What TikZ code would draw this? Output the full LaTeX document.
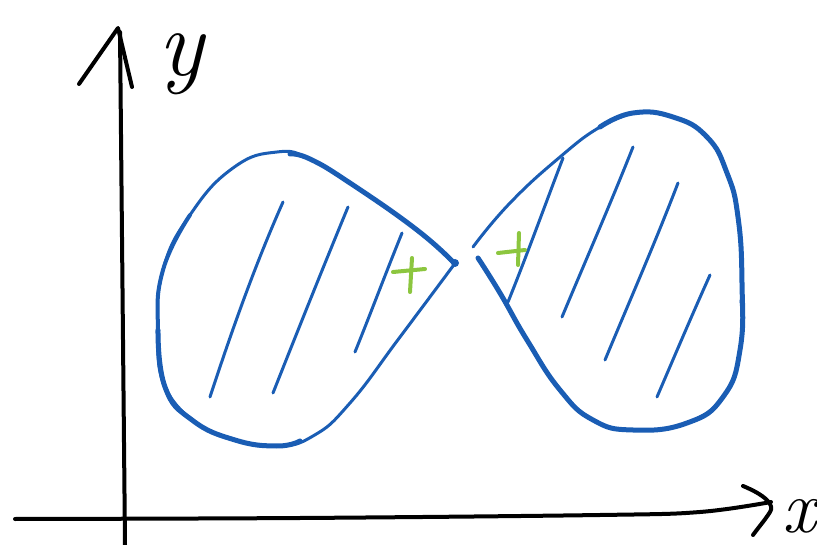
\documentclass[tikz,border=0pt]{standalone}
\usepackage{xcolor}
\definecolor{penblue}{HTML}{1A5DB4}
\definecolor{pengreen}{HTML}{8CC63F}
\begin{document}
\begin{tikzpicture}[x=1pt,y=-1pt,line cap=round,line join=round,
  axisline/.style={black,line width=4pt},
  blobthick/.style={penblue,line width=5pt},
  blobmid/.style={penblue,line width=4pt},
  blobthin/.style={penblue,line width=3pt},
  hatchline/.style={penblue,line width=3pt},
  plusline/.style={pengreen,line width=4pt},
  lbl/.style={inner sep=0pt,anchor=base,font=\fontsize{95}{95}\selectfont\itshape}]
\useasboundingbox (0,0) rectangle (817,545);
% axes
\draw[axisline] (125,545) -- (120,32);
\draw[axisline] (79,84) -- (118,28) -- (132,87);
\draw[axisline] plot[smooth,tension=0.6] coordinates {(15,519) (300,518) (600,515) (700,512) (771,502)};
\draw[axisline] (743,486) .. controls (765,495) and (775,505) .. (770,512) .. controls (765,520) and (758,528) .. (753,535);
\node[lbl] (ylabel) at (181,76) {y};
\node[lbl,font=\fontsize{75}{75}\selectfont\itshape] (xlabel) at (799,532) {x};
% left blob
\draw[blobthin] plot[smooth,tension=0.8] coordinates {(453,263) (417,230) (350,183) (310,159) (277,152) (233,168) (190,215) (163,270) (158,330) (165,387) (192,420) (235,440) (277,446) (313,436) (350,403) (400,337) (453,266)};
\draw[blobmid] plot[smooth,tension=0.8] coordinates {(190,215) (163,270) (158,330) (165,387) (192,420)};
\draw[blobthick] plot[smooth,tension=0.8] coordinates {(455,264) (417,230) (350,183) (310,159) (290,154)};
\draw[blobthick] plot[smooth,tension=0.8] coordinates {(158,330) (165,387) (192,420) (235,440) (277,446) (300,441)};
\fill[penblue] (455,263) circle (4pt);
\draw[hatchline] (283,202) .. controls (255,265) and (232,330) .. (210,397);
\draw[hatchline] (348,207) .. controls (322,270) and (298,330) .. (273,393);
\draw[hatchline] (402,233) .. controls (385,275) and (370,315) .. (355,352);
\draw[plusline] (393,272) -- (425,269);
\draw[plusline] (412,258) -- (410,292);
% right blob
\draw[blobthin] plot[smooth,tension=0.8] coordinates {(473,247) (510,203) (560,157) (600,127) (633,113)};
\draw[blobthick] plot[smooth,tension=0.8] coordinates {(600,127) (633,113) (673,117) (707,137) (727,173) (738,217) (742,283) (740,350) (723,397) (687,423) (633,430) (593,420) (560,390) (527,340) (500,293) (478,258)};
\draw[blobthin] plot[smooth,tension=0.8] coordinates {(741,300) (740,350) (723,397) (687,423) (650,430)};
\draw[hatchline] (563,158) .. controls (545,205) and (527,255) .. (508,302);
\draw[hatchline] (633,147) .. controls (610,205) and (585,262) .. (562,317);
\draw[hatchline] (678,183) .. controls (655,243) and (630,300) .. (605,360);
\draw[hatchline] (710,275) .. controls (692,315) and (675,355) .. (657,397);
\draw[plusline] (498,253) -- (525,250);
\draw[plusline] (519,233) -- (518,265);
\end{tikzpicture}
\end{document}
